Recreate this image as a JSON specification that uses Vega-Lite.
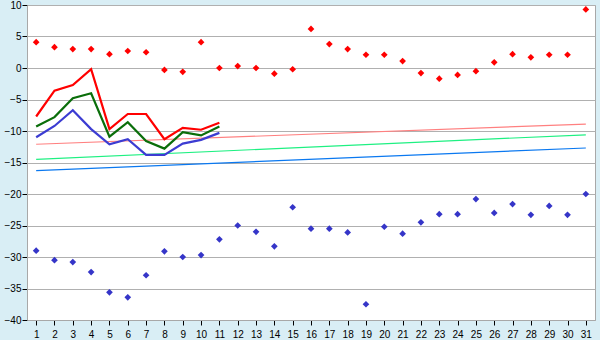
{
  "$schema": "https://vega.github.io/schema/vega-lite/v6.json",
  "width": 568,
  "height": 315,
  "autosize": {"type": "none"},
  "padding": {"left": 27, "top": 5, "right": 5, "bottom": 20},
  "background": "#d9eef5",
  "config": {
    "view": {"fill": "#ffffff", "stroke": "#a8a8a8", "strokeWidth": 1},
    "axis": {"labelFont": "Liberation Sans", "labelFontSize": 10, "labelColor": "#000000", "domainColor": "#a8a8a8", "tickColor": "#000000", "tickSize": 5, "gridColor": "#b0b0b0", "gridWidth": 1}
  },
  "data": {"values": [
    {"day":1,"series":"max","value":4.1},{"day":2,"series":"max","value":3.3},{"day":3,"series":"max","value":3.0},{"day":4,"series":"max","value":3.0},{"day":5,"series":"max","value":2.2},{"day":6,"series":"max","value":2.7},{"day":7,"series":"max","value":2.5},{"day":8,"series":"max","value":-0.3},{"day":9,"series":"max","value":-0.6},{"day":10,"series":"max","value":4.1},{"day":11,"series":"max","value":0.0},{"day":12,"series":"max","value":0.3},{"day":13,"series":"max","value":0.0},{"day":14,"series":"max","value":-0.9},{"day":15,"series":"max","value":-0.2},{"day":16,"series":"max","value":6.2},{"day":17,"series":"max","value":3.8},{"day":18,"series":"max","value":3.0},{"day":19,"series":"max","value":2.1},{"day":20,"series":"max","value":2.1},{"day":21,"series":"max","value":1.1},{"day":22,"series":"max","value":-0.8},{"day":23,"series":"max","value":-1.7},{"day":24,"series":"max","value":-1.1},{"day":25,"series":"max","value":-0.5},{"day":26,"series":"max","value":0.9},{"day":27,"series":"max","value":2.2},{"day":28,"series":"max","value":1.7},{"day":29,"series":"max","value":2.1},{"day":30,"series":"max","value":2.1},{"day":31,"series":"max","value":9.3},
    {"day":1,"series":"min","value":-29.0},{"day":2,"series":"min","value":-30.5},{"day":3,"series":"min","value":-30.8},{"day":4,"series":"min","value":-32.4},{"day":5,"series":"min","value":-35.6},{"day":6,"series":"min","value":-36.4},{"day":7,"series":"min","value":-32.9},{"day":8,"series":"min","value":-29.1},{"day":9,"series":"min","value":-30.0},{"day":10,"series":"min","value":-29.7},{"day":11,"series":"min","value":-27.2},{"day":12,"series":"min","value":-25.0},{"day":13,"series":"min","value":-26.0},{"day":14,"series":"min","value":-28.3},{"day":15,"series":"min","value":-22.1},{"day":16,"series":"min","value":-25.5},{"day":17,"series":"min","value":-25.5},{"day":18,"series":"min","value":-26.1},{"day":19,"series":"min","value":-37.5},{"day":20,"series":"min","value":-25.2},{"day":21,"series":"min","value":-26.3},{"day":22,"series":"min","value":-24.5},{"day":23,"series":"min","value":-23.2},{"day":24,"series":"min","value":-23.2},{"day":25,"series":"min","value":-20.8},{"day":26,"series":"min","value":-23.0},{"day":27,"series":"min","value":-21.6},{"day":28,"series":"min","value":-23.3},{"day":29,"series":"min","value":-21.9},{"day":30,"series":"min","value":-23.3},{"day":31,"series":"min","value":-20.0},
    {"day":1,"series":"lred","value":-7.7},{"day":2,"series":"lred","value":-3.6},{"day":3,"series":"lred","value":-2.7},{"day":4,"series":"lred","value":-0.2},{"day":5,"series":"lred","value":-9.7},{"day":6,"series":"lred","value":-7.3},{"day":7,"series":"lred","value":-7.3},{"day":8,"series":"lred","value":-11.3},{"day":9,"series":"lred","value":-9.5},{"day":10,"series":"lred","value":-9.8},{"day":11,"series":"lred","value":-8.7},
    {"day":1,"series":"lgreen","value":-9.3},{"day":2,"series":"lgreen","value":-7.8},{"day":3,"series":"lgreen","value":-4.8},{"day":4,"series":"lgreen","value":-4.0},{"day":5,"series":"lgreen","value":-10.9},{"day":6,"series":"lgreen","value":-8.6},{"day":7,"series":"lgreen","value":-11.6},{"day":8,"series":"lgreen","value":-12.8},{"day":9,"series":"lgreen","value":-10.2},{"day":10,"series":"lgreen","value":-10.7},{"day":11,"series":"lgreen","value":-9.3},
    {"day":1,"series":"lblue","value":-11.0},{"day":2,"series":"lblue","value":-9.2},{"day":3,"series":"lblue","value":-6.7},{"day":4,"series":"lblue","value":-9.7},{"day":5,"series":"lblue","value":-12.1},{"day":6,"series":"lblue","value":-11.3},{"day":7,"series":"lblue","value":-13.8},{"day":8,"series":"lblue","value":-13.8},{"day":9,"series":"lblue","value":-12.0},{"day":10,"series":"lblue","value":-11.4},{"day":11,"series":"lblue","value":-10.3},
    {"day":1,"series":"tred","value":-12.1},{"day":31,"series":"tred","value":-8.9},
    {"day":1,"series":"tgreen","value":-14.5},{"day":31,"series":"tgreen","value":-10.6},
    {"day":1,"series":"tblue","value":-16.3},{"day":31,"series":"tblue","value":-12.7}
  ]},
  "encoding": {
    "x": {"field": "day", "type": "quantitative", "scale": {"domain": [0.5, 31.5], "nice": false, "zero": false},
      "axis": {"title": null, "grid": false, "values": [1,2,3,4,5,6,7,8,9,10,11,12,13,14,15,16,17,18,19,20,21,22,23,24,25,26,27,28,29,30,31], "labelPadding": 4, "labelFlush": false, "labelOverlap": false}},
    "y": {"field": "value", "type": "quantitative", "scale": {"domain": [-40, 10], "nice": false, "zero": false},
      "axis": {"title": null, "grid": true, "values": [-40,-35,-30,-25,-20,-15,-10,-5,0,5,10], "labelPadding": 1, "tickSize": 5, "labelFlush": false}},
    "color": {"field": "series", "type": "nominal", "legend": null,
      "scale": {"domain": ["max","min","lred","lgreen","lblue","tred","tgreen","tblue"],
        "range": ["#ff0000","#3535c8","#ff0000","#0a6e0a","#3c3cd2","#ff8080","#1ef082","#0a78f0"]}}
  },
  "layer": [
    {"transform": [{"filter": {"field": "series", "oneOf": ["tred","tgreen","tblue"]}}],
     "mark": {"type": "line", "strokeWidth": 1.2}},
    {"transform": [{"filter": {"field": "series", "oneOf": ["lred","lgreen","lblue"]}}],
     "mark": {"type": "line", "strokeWidth": 2.2}},
    {"transform": [{"filter": {"field": "series", "oneOf": ["max","min"]}}],
     "mark": {"type": "point", "shape": "diamond", "filled": true, "size": 45, "opacity": 1}}
  ]
}
